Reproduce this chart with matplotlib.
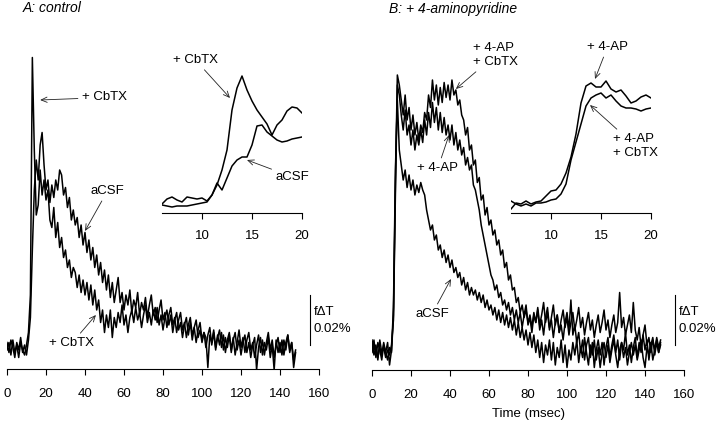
import numpy as np
import matplotlib
matplotlib.use("Agg")
import matplotlib.pyplot as plt

plt.rcParams['font.family'] = ['Liberation Sans', 'DejaVu Sans']

# traces sampled every 1 ms, values in units of 0.001 % fdT
a_acsf = [1, -3, 2, -1, -5, 1, -2, 3, -3, 0, -4,
          2, 11, 38, 62, 74, 66, 80, 85, 72, 62,
          66, 57, 64, 59, 66, 62, 70, 68, 60, 63,
          55, 59, 50, 54, 48, 51, 43, 48, 40, 45,
          37, 42, 34, 39, 31, 36, 28, 33, 25, 30,
          22, 28, 19, 25, 17,
          22, 27, 17, 21, 14, 20, 16, 22, 13, 18,
          15, 21, 12, 17, 14, 19, 11, 16, 20, 12,
          15, 9, 14, 18, 10, 13, 7, 12, 15, 8,
          11, 5, 10, 13, 6, 9, 3, 8, 11, 4,
          7, 1, 6, 9, 2, 5, -1, 4, 7, 0,
          5, -2, 3, 6, -1, 4, -3, 2, 5, -2,
          3, -4, 1, 6, -1, 3, -3, 2, 5, -2,
          1, -5, 0, 4, -3, 2, -4, 1, 5, -2,
          2, -5, 0, 3, -3, 2, -4, 1, 4, -2,
          1, -6, -2]
a_cbtx = [-2, 1, -4, 2, -3, 0, -5, 1, -2, -4, 0,
          5, 20, 115, 78, 52, 56, 70, 60, 66, 58,
          62, 50, 47, 55, 43, 49, 39, 43, 35, 38,
          31, 34, 27, 31, 29, 23, 28, 21, 26, 20,
          25, 18, 24, 16, 22, 14, 18, 9, 14, 5,
          12, 7, 14, 3, 11,
          7, 13, 9, 16, 8, 12, 5, 11, 14, 9,
          15, 10, 13, 7, 12, 16, 9, 13, 8, 14,
          10, 15, 8, 12, 6, 11, 14, 8, 12, 5,
          10, 13, 6, 9, 3, 8, 11, 4, 9, 2,
          7, 10, 3, 6, 1, 5, 3, -9, 4, 1,
          6, -1, 4, 0, 5, -2, 3, -1, 4, -3,
          2, 5, -2, 2, -4, 1, 4, -3, 1, -5,
          0, 3, -10, -1, 3, -4, 1, -2, 3, -5,
          0, -10, 2, -3, 1, -4, 2, -2, 4, -3,
          1, -9, -3]

b_acsf = [-3, 2, -5, 1, -2, -6, 0, -3, 1, -8, -2,
          15, 70, 98, 78, 72, 66, 70, 63, 68, 62,
          66, 60, 64, 61, 65, 62, 60, 54, 50, 46,
          48, 42, 44, 38, 40, 35, 38, 33, 36, 31,
          34, 29, 31, 27, 29, 24, 27, 22, 25, 20,
          23, 20, 22, 18, 21, 17, 20, 15, 18, 14,
          16, 12, 15, 10, 14, 9, 13, 8, 12, 7,
          11, 6, 10, 4, 9, 3, 7, 2, 6, 0,
          5, -1, 4, -3, 2, -5, 1, -7, 0, -4,
          2, -6, 1, -8, -1, -5, 2, -7, 0, -9,
          -2, -6, 1, -4, 2, -7, -1, -5, 3, -3,
          -8, 0, -4, 2, -6, -1, -9, -3, 1, -5,
          0, -7, -2, 2, -4, -9, -2, 1, -5, -1,
          -8, -3, 1, -4, 0, -6, -2, 2, -5, -9,
          -1, -4, 1, -6, -2, 2, -3, 1]
b_ap = [1, -4, -1, -6, 2, -3, -1, -5, -2, -4, 0,
        10, 60, 104, 100, 92, 86, 94, 84, 88, 80,
        86, 78, 84, 80, 86, 81, 90, 84, 93, 87,
        97, 89, 95, 86, 93, 85, 91, 84, 88, 82,
        88, 80, 85, 78, 82, 76, 79, 72, 75, 70,
        72, 64, 62, 58, 54, 48, 44, 40, 36, 32,
        28, 26, 22, 24, 19, 21, 16, 18, 14, 17,
        12, 15, 10, 14, 9,
        13, 7, 12, 16, 8, 11, 5, 12, 9, 14,
        6, 10, 4, 11, 15, 7, 10, 3, 9, 12,
        5, 8, 2, 9, 13, 6, 18, 4, 8, 1,
        5, -3, 2, -6, 0, 3, -5, 1, -9, -2,
        2, -4, 1, -8, -1, 3, -5, 0, 4, -3,
        2, -6, 1, -2, 5, -4, 0, -7, -1, 3,
        -5, 1, -3, 4, -2, 2, -6, 0, 3, -4,
        1, -3, 0]
b_ap_cbtx = [2, -2, 0, -5, -1, -4, 1, -3, -6, -1, -3,
             12, 65, 108, 104, 98, 92, 100, 90, 95, 86,
             92, 84, 89, 82, 88, 85, 93, 90, 100, 95,
             106, 98, 104, 96, 103, 97, 105, 99, 104, 98,
             106, 100, 102, 96, 98, 92, 90, 84, 87, 78,
             80, 72, 74, 65, 67, 58, 60, 52, 55, 48,
             50, 44, 46, 40, 42, 36, 38, 31, 33, 26,
             28, 22, 23, 17, 19, 13, 16, 11, 14, 9,
             12, 7, 13, 9, 15, 8, 12, 17, 9, 13,
             6, 11, 16, 8, 12, 5, 10, 14, 7, 11,
             4, 9, 13, 6, 10, 15, 7, 11, 4, 9,
             13, 6, 10, 3, 8, 12, 5, 9, 14, 6,
             10, 3, 8, 12, 5, 9, 21, 7, 11, 4,
             8, 12, 5, 17, 6, 2, 7, -1, 4, 8,
             0, 3, -3, 2, -2, 3, -1, 2]

# insets: 6-20 ms every 0.5 ms, arbitrary units
inset_t = np.arange(6.0, 20.01, 0.5)
ia_cbtx = [1, 6, 8, 5, 3, 8, 7, 6, 7, 4, 10, 20, 35, 55, 95, 117, 129, 115,
           104, 95, 88, 81, 70, 80, 85, 94, 98, 97, 92]
ia_acsf = [0, -1, -2, -1, -1, -1, 0, 1, 2, 3, 10, 22, 15, 27, 39, 45, 48, 48,
           60, 79, 80, 73, 69, 65, 63, 64, 66, 67, 68]
ib_ap = [-4, 2, 1, 4, 1, 3, 4, 9, 14, 15, 21, 32, 48, 71, 102, 119, 122, 118,
         118, 124, 116, 113, 115, 109, 102, 104, 108, 110, 107]
ib_ap_cbtx = [4, 1, -1, 1, -1, 2, 2, 3, 5, 6, 11, 21, 45, 63, 81, 99, 107, 110,
              112, 107, 110, 104, 99, 97, 97, 96, 94, 96, 97]

main_ticks = list(range(0, 161, 20))
inset_ticks = [10, 15, 20]

fig = plt.figure(figsize=(7.2, 4.28), dpi=100)

arrow = dict(arrowstyle='->,head_length=0.45,head_width=0.2', lw=0.6, color='#222222',
             shrinkA=1, shrinkB=0)
fs = 9.5


def style_axis(ax, ticks, xmin, xmax, pad):
    for s in ['left', 'top', 'right']:
        ax.spines[s].set_visible(False)
    ax.spines['bottom'].set_linewidth(0.8)
    ax.set_xlim(xmin, xmax)
    ax.set_xticks(ticks)
    ax.set_yticks([])
    ax.tick_params(axis='x', direction='out', length=4.5, width=0.8, pad=pad, labelsize=fs)
    ax.patch.set_alpha(0)


def scalebar(ax):
    ax.plot([155.4, 155.4], [0.0, 0.02], color='k', lw=0.8, clip_on=False)
    ax.text(157.2, 0.0132, 'f\u0394T', fontsize=fs, ha='left', va='center')
    ax.text(157.2, 0.0064, '0.02%', fontsize=fs, ha='left', va='center')


# ---- panel A
axA = fig.add_axes([7 / 720, 59 / 428, 312 / 720, 329 / 428])
axA.plot(np.arange(len(a_acsf)), np.array(a_acsf) * 1e-3, color='k', lw=1.1)
axA.plot(np.arange(len(a_cbtx)), np.array(a_cbtx) * 1e-3, color='k', lw=1.1)
axA.set_ylim(-0.0096, 0.122)
style_axis(axA, main_ticks, 0, 160, 9)
scalebar(axA)
axA.annotate('+ CbTX', xy=(17, 0.098), xytext=(38.5, 0.099), fontsize=fs,
             ha='left', va='center', arrowprops=arrow)
axA.annotate('aCSF', xy=(40, 0.0456), xytext=(51.5, 0.0616), fontsize=fs,
             ha='center', va='center', arrowprops=arrow)
axA.annotate('+ CbTX', xy=(45.6, 0.012), xytext=(33.3, 0.0008), fontsize=fs,
             ha='center', va='center', arrowprops=arrow)

# ---- panel B
axB = fig.add_axes([372 / 720, 58 / 428, 312 / 720, 330 / 428])
axB.plot(np.arange(len(b_acsf)), np.array(b_acsf) * 1e-3, color='k', lw=1.1)
axB.plot(np.arange(len(b_ap)), np.array(b_ap) * 1e-3, color='k', lw=1.1)
axB.plot(np.arange(len(b_ap_cbtx)), np.array(b_ap_cbtx) * 1e-3, color='k', lw=1.1)
axB.set_ylim(-0.0100, 0.122)
style_axis(axB, main_ticks, 0, 160, 9)
scalebar(axB)
axB.annotate('+ 4-AP\n+ CbTX', xy=(43, 0.1024), xytext=(51.8, 0.116), fontsize=fs,
             ha='left', va='center', linespacing=1.25, arrowprops=arrow)
axB.annotate('+ 4-AP', xy=(39.5, 0.084), xytext=(33.8, 0.0708), fontsize=fs,
             ha='center', va='center', arrowprops=arrow)
axB.annotate('aCSF', xy=(40.5, 0.0264), xytext=(30.8, 0.0124), fontsize=fs,
             ha='center', va='center', arrowprops=arrow)

# ---- insets
iA = fig.add_axes([162 / 720, 215 / 428, 140 / 720, 173 / 428])
iA.plot(inset_t, ia_cbtx, color='k', lw=1.1)
iA.plot(inset_t, ia_acsf, color='k', lw=1.1)
iA.set_ylim(-8, 165)
style_axis(iA, inset_ticks, 6, 20, 7.5)
iA.annotate('+ CbTX', xy=(12.8, 107), xytext=(9.35, 145), fontsize=fs,
            ha='center', va='center', arrowprops=arrow, annotation_clip=False)
iA.annotate('aCSF', xy=(14.5, 45), xytext=(19.05, 28), fontsize=fs,
            ha='center', va='center', arrowprops=arrow, annotation_clip=False)

iB = fig.add_axes([511 / 720, 215 / 428, 140 / 720, 173 / 428])
iB.plot(inset_t, ib_ap, color='k', lw=1.1)
iB.plot(inset_t, ib_ap_cbtx, color='k', lw=1.1)
iB.set_ylim(-8, 165)
style_axis(iB, inset_ticks, 6, 20, 7.5)
iB.annotate('+ 4-AP', xy=(14.4, 126), xytext=(15.65, 158), fontsize=fs,
            ha='center', va='center', arrowprops=arrow, annotation_clip=False)
iB.annotate('+ 4-AP\n+ CbTX', xy=(13.9, 100), xytext=(16.2, 59), fontsize=fs,
            ha='left', va='center', linespacing=1.25, arrowprops=arrow,
            annotation_clip=False)

# ---- titles and labels
fig.text(23 / 720, 1 - 8 / 428, 'A: control', fontsize=10, style='italic',
         ha='left', va='center')
fig.text(389 / 720, 1 - 9 / 428, 'B: + 4-aminopyridine', fontsize=10, style='italic',
         ha='left', va='center')
fig.text(528 / 720, 1 - 414 / 428, 'Time (msec)', fontsize=fs, ha='center', va='center')

fig.savefig('out.png', dpi=100)
